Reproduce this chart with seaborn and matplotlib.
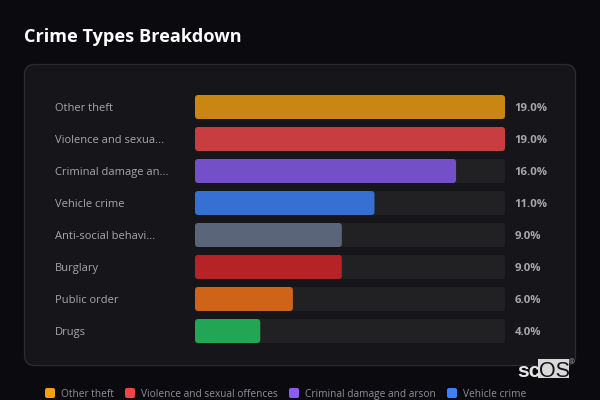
import matplotlib
matplotlib.use('Agg')
import matplotlib.pyplot as plt
from matplotlib.patches import FancyBboxPatch, Rectangle
import pandas as pd
import seaborn as sns

# data
categories = ['Other theft', 'Violence and sexual offences', 'Criminal damage and arson',
              'Vehicle crime', 'Anti-social behaviour', 'Burglary', 'Public order', 'Drugs']
short_labels = ['Other theft', 'Violence and sexua...', 'Criminal damage an...', 'Vehicle crime',
                'Anti-social behavi...', 'Burglary', 'Public order', 'Drugs']
percents = [19.0, 19.0, 16.0, 11.0, 9.0, 9.0, 6.0, 4.0]
bar_colors = ['#c98612', '#c83d40', '#7450c8', '#3570d2', '#5a6579', '#b52326', '#cf6418', '#22a555']
legend_colors = ['#f59e0b', '#ef4444', '#8b5cf6', '#3b82f6']

BG = '#0a0a0f'
CARD = '#16161a'
TRACK = '#212124'

sns.set_theme(style='dark')
plt.rcParams['font.family'] = ['Open Sans', 'DejaVu Sans']

df = pd.DataFrame({'category': categories, 'percent': percents, 'track': [max(percents)] * len(percents)})

fig = plt.figure(figsize=(6, 4), dpi=100, facecolor=BG)

# page layer in pixel coordinates, for the card, title and legend
page = fig.add_axes([0, 0, 1, 1], zorder=0)
page.set_xlim(0, 600)
page.set_ylim(400, 0)
page.axis('off')
page.add_patch(FancyBboxPatch((24.5, 64.5), 551, 301, boxstyle='round,pad=0,rounding_size=10',
                              fc=CARD, ec='#2b2b30', lw=0.9))
page.text(24, 42, 'Crime Types Breakdown', color='white', fontsize=13.1, fontweight='bold', va='baseline')

# bars: x 195..505 px, rows 32 px apart starting at y=107
ax = fig.add_axes([195 / 600, 1 - 347 / 400, 310 / 600, 256 / 400], zorder=1)
ax.patch.set_alpha(0)
sns.barplot(data=df, y='category', x='track', color=TRACK, width=0.75, ax=ax, saturation=1)
sns.barplot(data=df, y='category', x='percent', color=TRACK, width=0.75, ax=ax, saturation=1)
ax.set_xlim(0, max(percents))
ax.set_ylim(7.5, -0.5)

# swap the square bars for rounded ones
n = len(categories)
rects = list(ax.patches)
for i, r in enumerate(rects):
    color = TRACK if i < n else bar_colors[i - n]
    ax.add_patch(FancyBboxPatch((r.get_x(), r.get_y()), r.get_width(), r.get_height(),
                                boxstyle='round,pad=0,rounding_size=0.2', mutation_aspect=16.3 / 32,
                                fc=color, ec='none', clip_on=False))
    r.remove()

ax.set_xlabel('')
ax.set_ylabel('')
ax.set_xticks([])
ax.set_yticks(range(n))
ax.set_yticklabels(short_labels, color='#a6a6ab', fontsize=8.0, ha='left')
ax.tick_params(axis='y', length=0, pad=100.8)  # pad is in points, labels start at x=55 px
ax.grid(False)
for s in ax.spines.values():
    s.set_visible(False)

for i, p in enumerate(percents):
    ax.text(19.58, i + 0.12, f'{p:.1f}%', color='#a6a6ab', fontsize=8.2, fontweight='bold', va='baseline')

# legend, cut off after four entries like the original
legend_x = [45, 125, 289, 447]
for x, name, c in zip(legend_x, categories, legend_colors):
    page.add_patch(FancyBboxPatch((x, 388), 10, 10, boxstyle='round,pad=0,rounding_size=2', fc=c, ec='none'))
    page.text(x + 16, 397, name, color='#8f8f96', fontsize=7.3, va='baseline')

# watermark
page.add_patch(Rectangle((538, 359), 31, 19, fc='#d9d9d9', ec='none', zorder=3))
page.text(517, 377, 'sc', color='#e6e6e6', fontsize=15, fontweight='bold', va='baseline', family='Liberation Sans', zorder=4)
page.text(538.5, 377, 'OS', color='#16161a', fontsize=15.5, va='baseline', family='Liberation Sans', zorder=4)
page.text(569, 364, '®', color='#bdbdbd', fontsize=5.5, va='baseline', family='Liberation Sans', zorder=4)

fig.savefig('out.png', dpi=100, facecolor=BG)
